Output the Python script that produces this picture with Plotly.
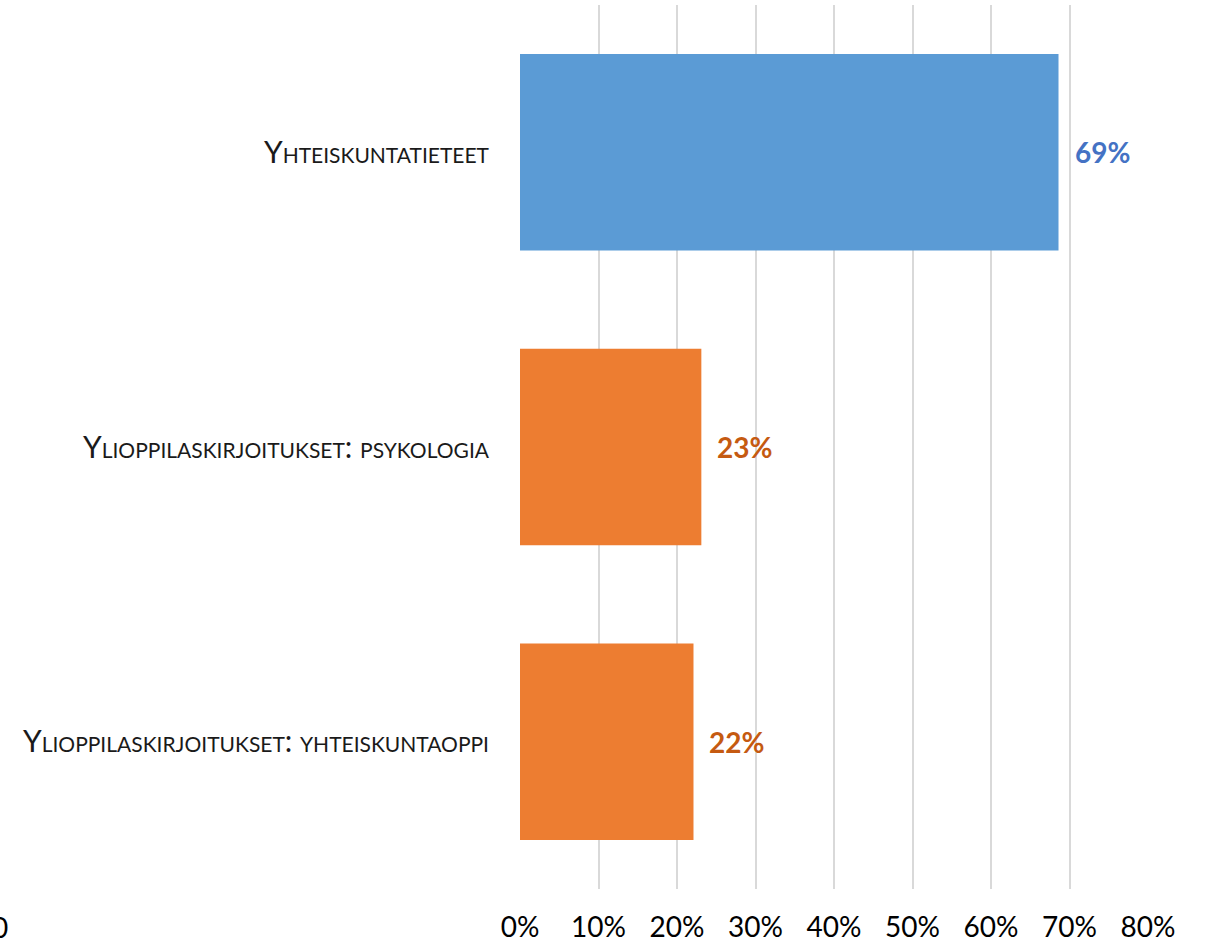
import plotly.graph_objects as go

categories = [
    "Yhteiskuntatieteet",
    "Ylioppilaskirjoitukset: psykologia",
    "Ylioppilaskirjoitukset: yhteiskuntaoppi",
]
values = [0.686, 0.231, 0.221]
value_labels = ["69%", "23%", "22%"]
bar_colors = ["#5B9BD5", "#ED7D31", "#ED7D31"]
label_colors = ["#4472C4", "#C55A11", "#C55A11"]
tick_vals = [0, 0.1, 0.2, 0.3, 0.4, 0.5, 0.6, 0.7, 0.8]
tick_text = ["0%", "10%", "20%", "30%", "40%", "50%", "60%", "70%", "80%"]

FONT = "Lato, 'Open Sans', sans-serif"

fig = go.Figure(
    go.Bar(
        x=values,
        y=categories,
        orientation="h",
        marker=dict(color=bar_colors, line=dict(width=0)),
        width=0.667,
        hoverinfo="skip",
    )
)

for cat, v, txt, col in zip(categories, values, value_labels, label_colors):
    fig.add_annotation(
        x=v, y=cat, text=f"<b>{txt}</b>", showarrow=False,
        xanchor="left", xshift=14,
        font=dict(family=FONT, size=28, color=col),
    )

# stray label clipped at the bottom-left edge, as in the original
fig.add_annotation(
    x=-0.828, y=-0.043, xref="paper", yref="paper", text="0",
    showarrow=False, xanchor="center", yanchor="middle",
    font=dict(family=FONT, size=28, color="#000000"),
)

fig.update_layout(
    width=1205,
    height=944,
    margin=dict(l=520, r=57, t=5, b=55),
    paper_bgcolor="white",
    plot_bgcolor="white",
    showlegend=False,
    font=dict(family=FONT, color="#000000"),
    xaxis=dict(
        range=[0, 0.8],
        tickvals=tick_vals,
        ticktext=tick_text,
        showgrid=True,
        gridcolor="#D9D9D9",
        gridwidth=2,
        zeroline=False,
        showline=False,
        automargin=False,
        tickfont=dict(family=FONT, size=28, color="#000000"),
        ticklabelstandoff=19,
    ),
    yaxis=dict(
        categoryorder="array",
        categoryarray=categories[::-1],
        showgrid=False,
        zeroline=False,
        showline=False,
        automargin=False,
        ticks="",
        ticklabelstandoff=30,
        tickfont=dict(family=FONT, size=30, color="#1a1a1a", variant="small-caps"),
    ),
)

fig.write_html(
    "out.html",
    config={"displayModeBar": False},
    post_script="document.body.style.margin='0';",
)
